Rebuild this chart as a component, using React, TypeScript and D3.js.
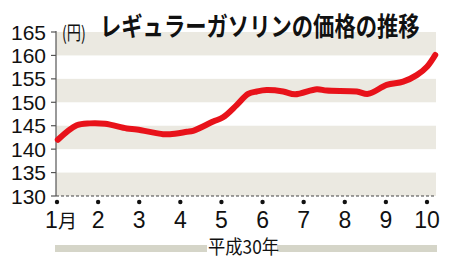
import * as d3 from 'd3';

// weekly readings, x in month units (1 = January)
const weekPos = [1.02, 1.48, 1.8, 2.17, 2.7, 2.94, 3.58, 3.75, 4.16, 4.31, 4.8, 5.04, 5.37, 5.65, 5.86, 6.1, 6.5, 6.79, 7.32, 7.56, 8.29, 8.57, 9.02, 9.42, 9.75, 10.0, 10.2];
const prices = [142.0, 145.1, 145.5, 145.4, 144.4, 144.2, 143.2, 143.2, 143.7, 143.9, 145.9, 146.8, 149.4, 151.8, 152.3, 152.6, 152.3, 151.7, 152.8, 152.5, 152.3, 151.8, 153.7, 154.4, 155.8, 157.6, 160.1];
const months = [1, 2, 3, 4, 5, 6, 7, 8, 9, 10];
const yTicks = [130, 135, 140, 145, 150, 155, 160, 165];
const title = 'レギュラーガソリンの価格の推移';
const unit = '(円)';
const yearLabel = '平成30年';

const W = 453;
const H = 258;
const plot = { left: 56, right: 436, top: 32, bottom: 196 };

export default function App() {
  const x = d3.scaleLinear().domain([1, 10]).range([57, 427]);
  const y = d3.scaleLinear().domain([130, 165]).range([plot.bottom, plot.top]);
  const pts = weekPos.map((m, i) => [x(m), y(prices[i])] as [number, number]);
  const line = d3.line().curve(d3.curveCatmullRom.alpha(0.5))(pts) || '';
  const bands = yTicks.slice(0, -1).filter((_, i) => i % 2 === 0);
  const narrow = '"Liberation Sans Narrow", "Liberation Sans", Arial, sans-serif';
  const jp = '"Noto Sans CJK JP", sans-serif';

  return (
    <svg width={W} height={H} style={{ position: 'absolute', left: 0, top: 0, background: '#fff' }}>
      {bands.map(v => (
        <rect key={v} x={plot.left} width={plot.right - plot.left} y={y(v + 5)} height={y(v) - y(v + 5)} fill="#ebe9e1" />
      ))}
      <line x1={plot.left} x2={plot.right} y1={plot.bottom} y2={plot.bottom} stroke="#444" strokeWidth={1.2} strokeDasharray="3,2" />
      <line x1={plot.left} x2={plot.left} y1={plot.top - 1} y2={plot.bottom} stroke="#555" strokeWidth={1.2} />
      {yTicks.map(v => (
        <g key={v}>
          <line x1={plot.left - 5} x2={plot.left} y1={y(v)} y2={y(v)} stroke="#555" strokeWidth={1.2} />
          <text x={46} y={y(v)} dy="0.36em" textAnchor="end" fontFamily={narrow} fontSize={21} fill="#111">{v}</text>
        </g>
      ))}
      {months.map(m => (
        <g key={m}>
          <circle cx={x(m)} cy={202} r={2.2} fill="#111" />
          <text x={x(m)} dx={m === 1 ? 4 : 0} y={228} textAnchor="middle" fontFamily={narrow} fontSize={23} fill="#111">
            {m}
            {m === 1 ? <tspan fontFamily={jp} fontSize={19}>月</tspan> : null}
          </text>
        </g>
      ))}
      <path d={line} fill="none" stroke="#e8121a" strokeWidth={6} strokeLinejoin="round" strokeLinecap="round" />
      <rect x={55} y={245} width={152} height={7} fill="#d5d5c8" />
      <rect x={277} y={245} width={160} height={7} fill="#d5d5c8" />
      <g transform="translate(208,254) scale(0.91,1)">
        <text x={0} y={0} fontFamily={jp} fontSize={19} fill="#111">{yearLabel}</text>
      </g>
      <g transform="translate(62,40) scale(0.75,1)">
        <text x={0} y={0} fontFamily={jp} fontSize={19} fill="#111">{unit}</text>
      </g>
      <g transform="translate(100,36) scale(0.82,1)">
        <text x={0} y={0} fontFamily={jp} fontWeight="bold" fontSize={26} fill="#111">{title}</text>
      </g>
    </svg>
  );
}
